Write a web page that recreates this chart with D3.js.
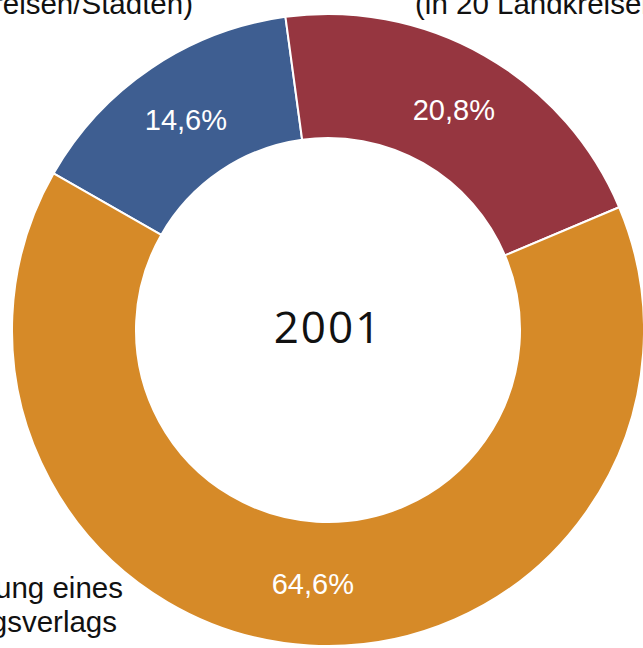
<!DOCTYPE html>
<html>
<head>
<meta charset="utf-8">
<script src="https://cdn.jsdelivr.net/npm/d3@7/dist/d3.min.js"></script>
<style>
  html, body { margin: 0; padding: 0; background: #fff; overflow: hidden; }
  svg { display: block; }
</style>
</head>
<body>
<svg id="chart" width="643" height="648"></svg>
<script>
// ---- data ----
const categories = ["Kreisen/Städten)", "(in 20 Landkreisen)", "Alleinstellung eines Zeitungsverlags"];
const values = [14.6, 20.8, 64.6];
const valueLabels = ["14,6%", "20,8%", "64,6%"];
const colors = ["#3e5e91", "#963640", "#d68a28"];
const year = "2001";

// ---- layout ----
const width = 643, height = 648;
const cx = 328, cy = 330;
const outerR = 316, innerR = 192;

const svg = d3.select("#chart");
const g = svg.append("g").attr("transform", `translate(${cx},${cy})`);

const startDeg = -60.3;
const pie = d3.pie().sort(null).value(d => d)
  .startAngle(startDeg * Math.PI / 180)
  .endAngle((startDeg + 360) * Math.PI / 180);
const arc = d3.arc().innerRadius(innerR).outerRadius(outerR);
const arcs = pie(values);

g.selectAll("path.slice").data(arcs).enter().append("path")
  .attr("class", "slice")
  .attr("d", arc)
  .attr("fill", (d, i) => colors[i])
  .attr("stroke", "#ffffff")
  .attr("stroke-width", 2)
  .attr("stroke-linejoin", "round");

g.selectAll("text.val").data(arcs).enter().append("text")
  .attr("class", "val")
  .attr("x", d => arc.centroid(d)[0])
  .attr("y", d => arc.centroid(d)[1])
  .attr("text-anchor", "middle")
  .attr("dy", "0.36em")
  .attr("fill", "#ffffff")
  .style("font-family", "'Liberation Sans', Arial, sans-serif")
  .style("font-size", "29px")
  .text((d, i) => valueLabels[i]);

g.append("text")
  .attr("x", 0).attr("y", 13)
  .attr("text-anchor", "middle")
  .attr("fill", "#111")
  .style("font-family", "'Open Sans', sans-serif")
  .style("font-size", "44px")
  .style("letter-spacing", "2px")
  .text(year);

// outer category labels (partially outside view)
const lblFont = "'Liberation Sans', Arial, sans-serif";
const lblSize = "29.5px";
svg.append("text").attr("x", 193).attr("y", 14).attr("text-anchor", "end")
  .attr("fill", "#111").style("font-family", lblFont).style("font-size", lblSize)
  .text(categories[0]);
svg.append("text").attr("x", 415).attr("y", 14).attr("text-anchor", "start")
  .attr("fill", "#111").style("font-family", lblFont).style("font-size", lblSize)
  .text(categories[1]);
const bl = categories[2].split(" ");
svg.append("text").attr("x", 123).attr("y", 598).attr("text-anchor", "end")
  .attr("fill", "#111").style("font-family", lblFont).style("font-size", lblSize)
  .text(bl[0] + " " + bl[1]);
svg.append("text").attr("x", 117).attr("y", 632).attr("text-anchor", "end")
  .attr("fill", "#111").style("font-family", lblFont).style("font-size", lblSize)
  .text(bl[2]);
</script>
</body>
</html>
